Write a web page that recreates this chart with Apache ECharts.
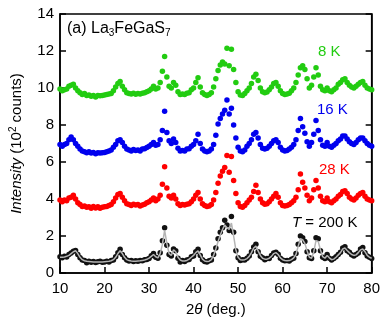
<!DOCTYPE html>
<html>
<head>
<meta charset="utf-8">
<script src="https://cdn.jsdelivr.net/npm/echarts@6/dist/echarts.min.js"></script>
<style>
  html, body { margin: 0; padding: 0; background: #fff; }
  #chart { width: 383px; height: 322px; }
</style>
</head>
<body>
<div id="chart"></div>
<script>
// 2θ grid: 10 → 80 deg, step 0.5
const twoTheta = []
for (let i = 0; i <= 140; i++) twoTheta.push(10 + i * 0.5)

// intensity in 10^2 counts
const k8 = [
  9.95, 9.85, 9.9, 9.95, 10.1, 10.15, 10.2, 10.0, 9.85, 9.75,
  9.65, 9.7, 9.6, 9.62, 9.55, 9.6, 9.52, 9.6, 9.58, 9.6,
  9.62, 9.65, 9.68, 9.7, 9.85, 10.05, 10.25, 10.35, 10.1, 9.9,
  9.75, 9.7, 9.68, 9.72, 9.66, 9.7, 9.68, 9.72, 9.75, 9.8,
  9.85, 9.95, 10.1, 9.95, 10.0, 10.3, 10.9, 11.7, 10.6, 10.1,
  10.0, 10.3, 10.15, 9.8, 9.65, 9.68, 9.65, 9.72, 9.75, 9.9,
  10.0, 10.3, 10.55, 10.05, 9.75, 9.65, 9.6, 9.65, 9.75, 10.05,
  10.5, 10.95, 11.25, 11.4, 11.3, 12.15, 11.2, 12.1, 11.0, 10.3,
  9.8, 9.62, 9.6, 9.7, 9.85, 10.0, 10.25, 10.6, 10.75, 10.4,
  10.0, 9.8, 9.75, 9.78, 9.9, 10.05, 10.25, 10.3, 10.1, 9.85,
  9.7, 9.65, 9.68, 9.72, 9.85, 10.0, 10.3, 10.7, 11.1, 11.2,
  11.0, 10.5, 10.0, 10.15, 10.6, 11.1, 10.7, 10.1, 9.9, 9.85,
  10.0, 9.85, 9.8, 9.9, 10.0, 10.2, 10.3, 10.45, 10.5, 10.3,
  10.15, 10.05, 10.0, 10.1, 10.2, 10.3, 10.35, 10.15, 10.0, 9.95,
  9.9,
]
const k16 = [
  6.95, 6.85, 6.95, 7.0, 7.2, 7.35, 7.2, 7.0, 6.85, 6.7,
  6.6, 6.55, 6.5, 6.55, 6.48, 6.52, 6.45, 6.5, 6.48, 6.5,
  6.52, 6.55, 6.6, 6.65, 6.8, 6.95, 7.15, 7.2, 7.05, 6.85,
  6.7, 6.65, 6.6, 6.68, 6.62, 6.65, 6.6, 6.7, 6.72, 6.78,
  6.85, 6.95, 7.05, 6.9, 6.95, 7.2, 7.7, 8.75, 7.6, 7.15,
  7.0, 7.25, 7.05, 6.75, 6.6, 6.62, 6.6, 6.7, 6.72, 6.85,
  6.95, 7.15, 7.5, 7.0, 6.7, 6.6, 6.55, 6.6, 6.7, 6.95,
  7.45, 8.05, 8.35, 8.6, 8.8, 9.35, 8.6, 8.9, 8.0, 7.3,
  6.8, 6.6, 6.55, 6.65, 6.85, 7.0, 7.2, 7.5, 7.6, 7.3,
  6.95, 6.75, 6.7, 6.75, 6.85, 7.0, 7.15, 7.2, 7.05, 6.8,
  6.65, 6.6, 6.62, 6.7, 6.8, 6.95, 7.2, 7.7, 8.35, 7.9,
  7.55, 7.1, 6.85, 7.05, 7.5, 8.25, 7.7, 7.2, 6.9, 6.85,
  7.05, 6.85, 6.8, 6.9, 7.0, 7.15, 7.25, 7.4, 7.4, 7.25,
  7.1, 7.0, 6.95, 7.05, 7.2, 7.3, 7.3, 7.15, 7.0, 6.9,
  6.85,
]
const k28 = [
  3.95, 3.85, 3.95, 3.9, 4.05, 4.1, 4.2, 4.0, 3.8, 3.7,
  3.6, 3.62, 3.55, 3.58, 3.5, 3.6, 3.52, 3.58, 3.5, 3.55,
  3.58, 3.6, 3.65, 3.7, 3.85, 4.05, 4.25, 4.3, 4.1, 3.9,
  3.75, 3.7, 3.65, 3.72, 3.68, 3.7, 3.62, 3.68, 3.72, 3.8,
  3.85, 3.95, 4.05, 3.9, 4.0, 4.2, 4.8, 5.75, 4.6, 4.15,
  4.05, 4.2, 4.0, 3.75, 3.65, 3.7, 3.68, 3.72, 3.75, 3.85,
  4.0, 4.2, 4.35, 4.0, 3.75, 3.65, 3.6, 3.62, 3.7, 3.95,
  4.35, 4.85, 5.25, 5.5, 5.7, 6.35, 5.45, 6.3, 5.0, 4.3,
  3.8, 3.6, 3.55, 3.65, 3.8, 3.95, 4.1, 4.4, 4.75, 4.35,
  4.0, 3.8, 3.72, 3.75, 3.85, 4.0, 4.15, 4.3, 4.1, 3.8,
  3.65, 3.62, 3.65, 3.7, 3.8, 3.9, 4.1, 4.5, 5.35, 4.9,
  4.6, 4.2, 3.9, 4.05, 4.5, 5.0, 4.6, 4.15, 3.9, 3.85,
  4.05, 3.85, 3.8, 3.9, 4.0, 4.15, 4.25, 4.4, 4.45, 4.3,
  4.1, 4.0, 3.95, 4.05, 4.2, 4.3, 4.35, 4.15, 4.0, 3.95,
  3.9,
]
const k200 = [
  0.88, 0.83, 0.9, 0.87, 1.0, 1.08, 1.18, 1.22, 1.0, 0.82,
  0.7, 0.68, 0.55, 0.64, 0.58, 0.62, 0.57, 0.61, 0.63, 0.58,
  0.6, 0.64, 0.6, 0.68, 0.7, 0.88, 1.1, 1.28, 1.0, 0.83,
  0.7, 0.65, 0.68, 0.62, 0.66, 0.63, 0.68, 0.66, 0.72, 0.73,
  0.78, 0.93, 1.05, 0.85, 0.8, 1.1, 1.75, 2.45, 1.5, 1.0,
  0.92, 1.3, 1.2, 0.8, 0.6, 0.68, 0.62, 0.7, 0.73, 0.88,
  0.92, 1.15, 1.28, 0.95, 0.72, 0.62, 0.6, 0.66, 0.7, 1.0,
  1.35, 1.85, 2.2, 2.45, 2.85, 2.6, 2.3, 3.05, 2.2, 1.2,
  0.82, 0.68, 0.72, 0.7, 0.8, 0.92, 1.15, 1.4, 1.55, 1.15,
  0.9, 0.82, 0.72, 0.78, 0.78, 0.95, 1.08, 1.12, 1.02, 0.8,
  0.7, 0.66, 0.68, 0.65, 0.74, 0.8, 1.05, 1.55, 2.0, 1.9,
  1.7, 1.15, 0.82, 0.78, 1.2, 1.9, 1.85, 1.2, 0.85, 0.78,
  1.0, 0.8, 0.7, 0.78, 0.88, 1.0, 1.12, 1.35, 1.42, 1.2,
  1.12, 0.98, 0.92, 1.0, 1.08, 1.3, 1.38, 1.1, 0.92, 0.85,
  0.78,
]
// calculated profile drawn through the 200 K data
const fit200 = [
  0.85, 0.85, 0.87, 0.9, 0.95, 1.05, 1.15, 1.2, 1.05, 0.85,
  0.72, 0.66, 0.63, 0.62, 0.61, 0.6, 0.6, 0.6, 0.6, 0.6,
  0.61, 0.62, 0.63, 0.66, 0.72, 0.85, 1.05, 1.2, 1.05, 0.85,
  0.72, 0.67, 0.65, 0.64, 0.64, 0.65, 0.66, 0.68, 0.7, 0.74,
  0.8, 0.9, 1.0, 0.88, 0.82, 1.05, 1.55, 2.3, 1.6, 1.05,
  0.95, 1.25, 1.15, 0.85, 0.7, 0.65, 0.65, 0.68, 0.75, 0.85,
  0.95, 1.1, 1.2, 0.98, 0.75, 0.65, 0.62, 0.64, 0.72, 0.95,
  1.3, 1.7, 2.05, 2.35, 2.6, 2.45, 2.35, 2.7, 2.0, 1.25,
  0.85, 0.72, 0.7, 0.72, 0.78, 0.9, 1.1, 1.35, 1.45, 1.2,
  0.95, 0.8, 0.75, 0.75, 0.8, 0.9, 1.05, 1.1, 1.0, 0.82,
  0.72, 0.68, 0.66, 0.67, 0.72, 0.82, 1.0, 1.45, 1.85, 1.8,
  1.6, 1.2, 0.85, 0.8, 1.15, 1.75, 1.7, 1.25, 0.88, 0.8,
  0.95, 0.82, 0.72, 0.75, 0.85, 0.98, 1.1, 1.3, 1.35, 1.22,
  1.1, 1.0, 0.95, 0.98, 1.1, 1.25, 1.3, 1.15, 0.95, 0.85,
  0.8,
]

const xTicks = [10, 20, 30, 40, 50, 60, 70, 80]
const yTicks = [0, 2, 4, 6, 8, 10, 12, 14]

const FONT = 'Liberation Sans, Arial, sans-serif'

function pairs(vals) {
  return vals.map((v, i) => [twoTheta[i], v])
}

function dots(vals, color) {
  return {
    type: 'scatter',
    data: pairs(vals),
    symbol: 'circle',
    symbolSize: 5.5,
    itemStyle: { color, opacity: 1 },
    silent: true,
  }
}

const chart = echarts.init(document.getElementById('chart'), null, { renderer: 'canvas' })

const axisCommon = {
  axisLine: { show: true, lineStyle: { color: '#000', width: 1.5 } },
  axisTick: { show: true, inside: true, length: 6, lineStyle: { color: '#000', width: 1.5 } },
  splitLine: { show: false },
}

chart.setOption({
  animation: false,
  backgroundColor: '#fff',
  grid: {
    left: 58, right: 11, top: 14, bottom: 45,
    show: true, borderColor: '#000', borderWidth: 1.5,
  },
  xAxis: {
    type: 'value',
    min: xTicks[0], max: xTicks[xTicks.length - 1], interval: 10,
    ...axisCommon,
    axisLabel: { color: '#000', fontSize: 15, fontFamily: FONT, margin: 8 },
    name: '2{i|θ} (deg.)',
    nameLocation: 'middle',
    nameGap: 29,
    nameTextStyle: {
      color: '#000', fontSize: 15, fontFamily: FONT,
      rich: { i: { fontStyle: 'italic', fontSize: 15, fontFamily: FONT, color: '#000' } },
    },
  },
  yAxis: [
    {
      type: 'value',
      min: yTicks[0], max: yTicks[yTicks.length - 1], interval: 2,
      ...axisCommon,
      axisLabel: { color: '#000', fontSize: 15, fontFamily: FONT, margin: 6 },
      name: '{i|Intensity} (10{sup|2} counts)',
      nameLocation: 'middle',
      nameRotate: 90,
      nameGap: 34,
      nameTextStyle: {
        color: '#000', fontSize: 15, fontFamily: FONT,
        rich: {
          i: { fontStyle: 'italic', fontSize: 15, fontFamily: FONT, color: '#000' },
          sup: { fontSize: 10, fontFamily: FONT, color: '#000', padding: [0, 0, 8, 0] },
        },
      },
    },
    {
      type: 'value',
      position: 'right',
      min: yTicks[0], max: yTicks[yTicks.length - 1], interval: 2,
      ...axisCommon,
      axisLabel: { show: false },
    },
  ],
  graphic: [
    {
      type: 'text', left: 67, top: 21,
      style: {
        text: '(a) La{sub|3}FeGaS{sub|7}',
        font: '16px ' + FONT, fill: '#000',
        rich: { sub: { fontSize: 10, fontFamily: FONT, fill: '#000', padding: [9, 0, 0, 0] } },
      },
    },
    { type: 'text', left: 318, top: 44, style: { text: '8 K', font: '15px ' + FONT, fill: '#22cc11' } },
    { type: 'text', left: 317, top: 102, style: { text: '16 K', font: '15px ' + FONT, fill: '#0000ee' } },
    { type: 'text', left: 319, top: 162, style: { text: '28 K', font: '15px ' + FONT, fill: '#ff0000' } },
    {
      type: 'text', left: 292, top: 215,
      style: {
        text: '{i|T} = 200 K',
        font: '15px ' + FONT, fill: '#000',
        rich: { i: { fontStyle: 'italic', fontSize: 15, fontFamily: FONT, fill: '#000' } },
      },
    },
  ],
  series: [
    dots(k8, '#22cc11'),
    dots(k16, '#0000ee'),
    dots(k28, '#ff0000'),
    dots(k200, '#111111'),
    {
      type: 'line',
      data: pairs(fit200),
      showSymbol: false,
      lineStyle: { color: '#b4b4b4', width: 1.5 },
      z: 5,
      silent: true,
    },
  ],
})
</script>
</body>
</html>
